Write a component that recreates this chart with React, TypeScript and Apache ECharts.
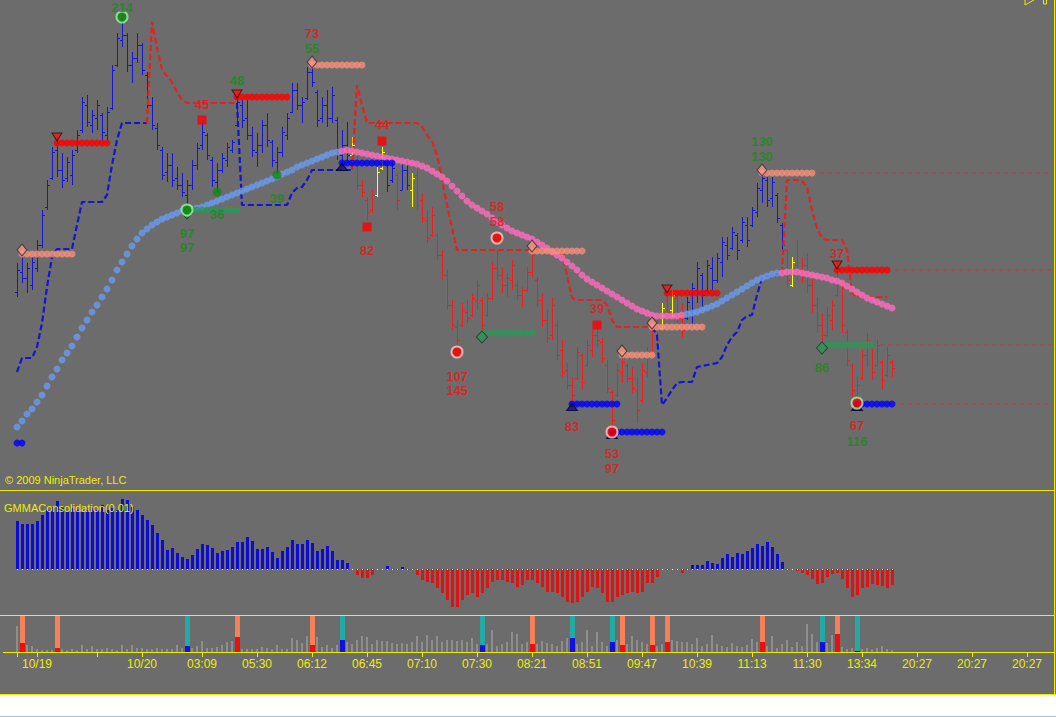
import React, { useEffect, useRef } from "react";
import * as echarts from "echarts";

// ---------- layout constants ----------
const N_SLOTS = 208;
const FONT = "'Liberation Sans', Arial, sans-serif";
const YELLOW = "#eeee00";
const BG = "#6c6c6c";

// ---------- axis ticks ----------
const TICKS: [number, string][] = [
  [0, ""], [4, "10/19"], [16, ""], [25, "10/20"], [37, "03:09"], [48, "05:30"], [59, "06:12"],
  [70, "06:45"], [81, "07:10"], [92, "07:30"], [103, "08:21"], [114, "08:51"], [125, "09:47"],
  [136, "10:39"], [147, "11:13"], [158, "11:30"], [169, "13:34"], [180, "20:27"], [191, "20:27"], [202, "20:27"],
];

// ---------- price bars [open, high, low, close] ----------
const BAR_OHLC: number[][] = [
  [198,227,193,220],[218,233,207,212],[212,227,197,222],[205,233,200,228],[222,250,218,245],
  [245,280,242,275],[283,310,280,305],[312,343,310,338],[340,353,313,320],[320,337,302,310],
  [312,333,308,328],[315,340,305,335],[340,360,337,355],[360,393,357,388],[385,395,363,368],
  [365,380,357,375],[372,390,360,385],[375,377,350,358],[355,383,350,378],[382,425,380,420],
  [425,457,423,452],[450,472,443,455],[455,457,418,425],[425,438,407,432],[432,457,427,445],
  [445,447,415,420],[415,418,380,385],[385,393,360,365],[362,367,340,345],[340,343,310,315],
  [318,337,308,325],[325,337,303,310],[312,323,300,305],[305,317,293,298],[295,310,285,305],
  [305,330,300,325],[325,347,320,342],[345,367,340,358],[355,357,330,335],[330,333,303,310],
  [308,327,298,320],[320,337,317,332],[330,347,323,343],[340,350,337,348],[365,393,363,388],
  [385,390,362,370],[372,390,350,355],[355,363,333,340],[338,357,323,345],[345,370,337,365],
  [365,377,343,350],[348,350,323,330],[328,343,315,338],[338,363,333,358],[355,377,350,372],
  [378,407,377,400],[400,407,380,385],[385,393,367,388],[392,423,390,418],[418,427,403,408],
  [398,400,363,370],[372,393,367,385],[385,400,363,372],[372,403,367,395],[370,373,330,338],
  [335,360,323,345],[345,368,327,335],[335,353,328,345],[330,337,300,305],[305,310,293,298],
  [290,293,270,278],[280,300,277,295],[295,323,293,318],[322,343,320,338],[325,327,298,305],
  [310,330,307,322],[315,317,280,290],[300,327,300,320],[320,330,300,305],[300,317,283,312],
  [315,320,280,285],[290,297,267,272],[270,280,247,252],[255,283,253,275],[255,257,230,235],
  [235,240,210,215],[215,220,180,185],[185,190,160,165],[163,170,145,150],[165,187,163,180],
  [178,190,167,172],[175,197,173,192],[190,210,180,205],[190,193,157,165],[175,197,173,192],
  [192,228,190,222],[222,240,210,215],[215,223,197,205],[205,217,193,212],[210,230,200,225],
  [205,210,190,195],[195,203,183,200],[200,223,197,218],[218,243,213,235],[210,213,183,190],
  [190,197,163,170],[170,180,147,152],[155,193,150,185],[165,170,130,135],[140,150,113,118],
  [120,127,100,105],[105,113,87,95],[112,143,110,138],[135,137,100,108],[125,150,123,145],
  [140,160,133,155],[155,167,143,150],[148,153,127,132],[125,130,97,102],[98,100,60,70],
  [95,127,93,120],[118,133,107,128],[125,127,107,112],[112,123,97,102],[100,113,67,80],
  [90,127,87,120],[118,143,113,138],[138,170,133,165],[165,177,140,150],[162,187,160,182],
  [190,203,173,178],[180,200,173,195],[192,195,167,172],[172,187,153,160],[172,193,170,188],
  [180,207,163,202],[200,228,187,222],[215,217,183,195],[200,230,197,225],[222,233,200,210],
  [210,237,207,232],[228,253,213,248],[245,253,230,235],[242,263,240,258],[255,257,230,240],
  [250,273,247,268],[265,273,243,250],[265,283,263,280],[278,307,273,302],[300,317,287,312],
  [310,313,283,290],[292,313,283,308],[295,297,267,272],[265,267,240,245],[240,240,203,210],
  [205,233,203,228],[225,250,210,218],[220,233,207,225],[225,237,197,205],[205,213,177,185],
  [185,193,157,165],[165,177,147,155],[155,183,153,175],[170,190,160,185],[195,227,193,220],
  [205,210,157,165],[158,160,123,130],[125,127,93,100],[95,113,87,105],[112,140,110,135],
  [135,157,123,150],[143,143,110,118],[125,150,123,145],[128,130,100,110],[115,143,113,135],
  [128,130,113,122],
];
// bar colour segments [from, to, trend]
const BAR_TREND_SEGMENTS: [number, number, string][] = [
  [0, 66, "b"], [67, 67, "y"], [68, 71, "r"], [72, 73, "y"], [74, 75, "b"], [76, 76, "r"],
  [77, 78, "b"], [79, 79, "y"], [80, 128, "r"], [129, 129, "y"], [130, 130, "r"], [131, 131, "y"],
  [132, 133, "r"], [134, 153, "b"], [154, 154, "r"], [155, 155, "y"], [156, 175, "r"],
];

// ---------- moving average (dotted) ----------
const MA_VALUES: number[] = [
  63,69,76,81,88,95,104,113,121,130,
  137,144,153,162,170,178,185,193,201,210,
  220,228,236,244,251,257,261,265,268,271,
  273,275,277,279,280,281,282,283,285,287,
  289,291,293,295,297,299,301,303,305,307,
  309,311,313,316,318,320,323,325,327,329,
  331,333,335,337,338,339,340,339,338,337,
  336,335,334,333,332,331,330,329,328,327,
  326,324,322,319,316,313,309,304,299,294,
  289,285,282,279,276,272,268,265,262,259,
  257,255,253,251,248,245,242,238,235,232,
  228,224,220,215,211,208,205,202,199,196,
  193,190,187,184,181,179,177,175,174,174,
  174,174,174,175,176,177,178,180,182,184,
  186,189,192,195,198,201,204,207,210,212,
  214,216,217,217,218,218,218,217,216,215,
  214,213,212,210,209,207,204,201,198,195,
  192,190,188,186,184,182,
];
const MA_TREND_SEGMENTS: [number, number, string][] = [
  [0, 64, "up"], [65, 133, "dn"], [134, 152, "up"], [153, 175, "dn"],
];

// ---------- trailing stops (dashed) [startIndex, values] ----------
const STOP_LONG_SEGMENTS: [number, number[]][] = [
  [0, [118,132,132,132,143,167,203,233,241,241,241,241,265,288,288,288,288,288,295,325,350,367,367,367,367,367,367]],
  [44, [387,285,285,285,285,285,285,285,285,285,285,297,302,303,310,320,320,320,320,320,320,320,320,320]],
  [127, [163,155,85,92,100,107,108,108,108,123,124,125,126,127,133,145,153,158,170,174,175,195,212,214,215,216,217]],
];
const STOP_SHORT_SEGMENTS: [number, number[]][] = [
  [26, [367,468,442,420,414,408,398,390,387,387,387,387,387,387,387,387,387,387,387]],
  [67, [320,405,385,367,367,367,367,367,367,367,367,367,367,367,363,355,349,335,310,285,262,
        240,240,240,240,240,240,240,240,240,240,240,240,240,240,240,240,240,240,240,240,240,
        237,215,192,190,190,190,190,190,190,185,170,163,163,163,163,163,163,163,163]],
  [153, [217,310,310,310,309,303,280,262,252,250,250,250,250,240,197,193,193,193,193,193,193,193]],
];

// ---------- signal levels [value, from, to, kind] ----------
const LEVELS: [number, number, number, string][] = [
  [236, 1, 11, "pink"], [425, 59, 69, "pink"], [239, 103, 113, "pink"], [135, 121, 127, "pink"],
  [163, 127, 137, "pink"], [317, 149, 159, "pink"],
  [347, 8, 18, "red"], [393, 44, 54, "red"], [197, 130, 140, "red"], [220, 164, 174, "red"],
  [47, 0, 1, "blue"], [327, 65, 75, "blue"], [86, 111, 120, "blue"], [58, 119, 129, "blue"], [86, 168, 175, "blue"],
  [280, 34, 44, "green"], [157, 93, 103, "green"], [145, 161, 171, "green"],
];
// level projections to the right edge [value, fromIndex]
const EXTENSIONS: [number, number][] = [[317, 159], [220, 174], [145, 171], [86, 175]];

// ---------- markers ----------
const PINK_MARKERS: number[][] = [[1, 240], [59, 428], [103, 244], [121, 139], [127, 167], [149, 320]];
const RED_MARKERS: number[][] = [[8, 353], [44, 396], [130, 201], [164, 225]];
const BLUE_MARKERS: number[][] = [[65, 323], [111, 83], [119, 55], [168, 83]];
const GREEN_MARKERS: number[][] = [[34, 277], [93, 153], [161, 142]];
const RING_CIRCLES: [number, number, string][] = [
  [21, 473, "g"], [34, 280, "g"], [88, 138, "r"], [96, 252, "r"], [119, 58, "r"], [168, 87, "rg"],
];
const SQUARES: number[][] = [[37, 370], [70, 263], [73, 349], [116, 165]];
const GREEN_DOTS: number[][] = [[40, 298], [52, 315]];

// ---------- number labels [index, value, text, colour] ----------
const LABELS: [number, number, string, string][] = [
  [21, 483, "214", "g"], [37, 386, "45", "r"], [44, 410, "48", "g"],
  [59, 457, "73", "r"], [59, 442, "55", "g"],
  [34, 257, "97", "g"], [34, 243, "97", "g"], [40, 276, "36", "g"], [52, 292, "39", "g"],
  [73, 366, "44", "r"], [70, 240, "82", "r"],
  [96, 284, "58", "r"], [96, 269, "58", "r"],
  [88, 114, "107", "r"], [88, 100, "145", "r"],
  [116, 182, "39", "r"], [111, 64, "83", "r"],
  [119, 37, "53", "r"], [119, 22, "97", "r"],
  [149, 349, "130", "g"], [149, 334, "130", "g"],
  [164, 237, "37", "r"], [161, 123, "86", "g"],
  [168, 65, "67", "r"], [168, 49, "116", "g"],
];

// ---------- GMMA consolidation histogram ----------
const GMMA: number[] = [
  48,45,45,45,48,54,59,62,68,62,
  57,61,59,57,59,61,59,64,59,61,
  59,70,69,62,59,54,49,44,36,29,
  19,21,16,12,10,14,20,25,24,21,
  16,18,19,22,27,27,32,28,20,20,
  22,17,11,18,22,29,25,25,29,26,
  18,20,23,18,9,9,6,0,-6,-9,
  -9,-6,0,0,3,-1,-1,2,-1,0,
  -6,-11,-13,-14,-19,-24,-31,-38,-38,-31,
  -26,-24,-28,-24,-19,-13,-11,-11,-13,-14,
  -18,-16,-11,-11,-14,-18,-23,-23,-24,-28,
  -33,-34,-33,-28,-23,-18,-19,-24,-33,-33,
  -28,-26,-24,-23,-24,-23,-14,-14,-8,0,
  -1,0,0,-4,-1,4,4,4,8,6,
  5,11,15,12,16,15,18,21,25,23,
  27,22,15,7,-1,0,-2,-4,-6,-10,
  -15,-14,-8,-5,-4,-10,-19,-28,-26,-19,
  -18,-15,-16,-17,-19,-16,
];

// ---------- volume ----------
const VOLUME: number[] = [
  26,9,7,6,3,2,2,2,4,3,
  2,3,2,7,3,6,3,3,4,3,
  2,7,3,7,4,4,3,3,4,3,
  3,3,7,4,6,4,6,11,4,4,
  5,7,10,11,15,3,3,3,3,5,
  4,3,7,3,3,14,12,9,16,7,
  15,5,7,4,7,12,10,8,12,16,
  15,8,12,11,11,9,8,9,8,10,
  16,10,17,12,16,10,12,12,11,12,
  10,14,8,7,8,22,6,8,10,20,
  18,8,10,8,8,11,9,8,6,11,
  14,14,8,10,22,6,20,10,6,10,
  12,7,8,16,12,10,8,7,6,8,
  10,12,11,10,10,8,14,6,8,17,
  8,6,5,9,6,5,7,13,10,10,
  6,16,4,8,12,5,10,6,28,18,
  10,10,9,17,18,5,3,4,1,3,
  4,3,4,6,3,2,
];
// signal bars in volume panel [index, kind] c = coral/sell, t = teal/buy
const SIGNALS: [number, string][] = [
  [1, "c"], [8, "c"], [34, "t"], [44, "c"], [59, "c"], [65, "t"], [93, "t"], [103, "c"], [111, "t"],
  [119, "t"], [121, "c"], [127, "c"], [130, "c"], [149, "c"], [161, "t"], [164, "c"], [168, "t"],
];

const PRICE_MIN = 0, PRICE_MAX = 490;
const GMMA_MIN = -46, GMMA_MAX = 79;
const VOL_MAX = 37;

// ---------- colours ----------
const BAR_COLORS: Record<string, string> = { b: "#1616d8", r: "#f01e1e", y: "#ffff00" };
const MA_COLORS: Record<string, string> = { up: "#6b9bf0", dn: "#ff6cbc" };
const LEVEL_COLORS: Record<string, string> = { pink: "#f88e7c", red: "#ff0000", blue: "#0000ff", green: "#2f9358" };
const TEXT_COLORS: Record<string, string> = { g: "#1a8a1a", r: "#e81818" };

function trendAt(segs: [number, number, string][], i: number): string {
  for (const s of segs) if (i >= s[0] && i <= s[1]) return s[2];
  return segs[segs.length - 1][2];
}
function segmentsToArray(segs: [number, number[]][], n: number): (number | null)[] {
  const arr: (number | null)[] = new Array(n).fill(null);
  for (const [start, vals] of segs) vals.forEach((v, k) => { arr[start + k] = v; });
  return arr;
}

export default function App() {
  const ref = useRef<HTMLDivElement>(null);

  useEffect(() => {
    document.body.style.margin = "0";
    if (!ref.current) return;
    const chart = echarts.init(ref.current, undefined, { renderer: "svg" });
    const n = BAR_OHLC.length;

    const tickMap = new Map<number, string>(TICKS);
    const categories = Array.from({ length: N_SLOTS }, (_, i) => tickMap.get(i) ?? "");
    const signalMap = new Map<number, string>(SIGNALS);

    const xAxes = [0, 1, 2].map((g) => ({
      type: "category",
      gridIndex: g,
      data: categories,
      boundaryGap: true,
      splitLine: { show: false },
      axisLine: g === 2 ? { show: true, lineStyle: { color: YELLOW, width: 1 } } : { show: false },
      axisTick: g === 2
        ? { show: true, alignWithLabel: true, length: 5, interval: (idx: number) => tickMap.has(idx), lineStyle: { color: YELLOW } }
        : { show: false },
      axisLabel: g === 2
        ? { show: true, interval: (idx: number) => tickMap.has(idx), color: YELLOW, fontSize: 12, fontFamily: FONT, margin: 6, hideOverlap: false }
        : { show: false },
    }));

    const yAxes = [
      { type: "value", gridIndex: 0, min: PRICE_MIN, max: PRICE_MAX, show: false },
      { type: "value", gridIndex: 1, min: GMMA_MIN, max: GMMA_MAX, show: false },
      { type: "value", gridIndex: 2, min: 0, max: VOL_MAX, show: false },
    ];

    const ohlcData = BAR_OHLC.map((b, i) => [i, b[0], b[1], b[2], b[3]]);

    const maData = MA_VALUES.map((v, i) => ({
      value: [i, v],
      itemStyle: { color: MA_COLORS[trendAt(MA_TREND_SEGMENTS, i)] },
    }));

    const levelData: any[] = [];
    for (const [v, a, b, kind] of LEVELS) {
      for (let i = a; i <= b; i++) levelData.push({ value: [i, v], itemStyle: { color: LEVEL_COLORS[kind] } });
    }

    const series: any[] = [];

    // price bars
    series.push({
      type: "custom",
      xAxisIndex: 0, yAxisIndex: 0, z: 2,
      data: ohlcData,
      encode: { x: 0, y: [1, 2, 3, 4] },
      renderItem: (params: any, api: any) => {
        const i = api.value(0);
        const o = api.coord([i, api.value(1)]);
        const h = api.coord([i, api.value(2)]);
        const l = api.coord([i, api.value(3)]);
        const c = api.coord([i, api.value(4)]);
        const x = Math.round(h[0]) + 0.5;
        const col = BAR_COLORS[trendAt(BAR_TREND_SEGMENTS, params.dataIndex)];
        const st = { stroke: col, lineWidth: 1 };
        const oy = Math.round(o[1]) + 0.5, cy = Math.round(c[1]) + 0.5;
        return {
          type: "group",
          children: [
            { type: "line", shape: { x1: x, y1: Math.round(h[1]), x2: x, y2: Math.round(l[1]) }, style: st },
            { type: "line", shape: { x1: x - 2.5, y1: oy, x2: x, y2: oy }, style: st },
            { type: "line", shape: { x1: x, y1: cy, x2: x + 2.5, y2: cy }, style: st },
          ],
        };
      },
    });

    // trailing stops
    series.push({
      type: "line", xAxisIndex: 0, yAxisIndex: 0, z: 3, symbol: "none", connectNulls: false,
      data: segmentsToArray(STOP_LONG_SEGMENTS, n),
      lineStyle: { color: "#1414d2", width: 2.2, type: [6, 3] },
    });
    series.push({
      type: "line", xAxisIndex: 0, yAxisIndex: 0, z: 3, symbol: "none", connectNulls: false,
      data: segmentsToArray(STOP_SHORT_SEGMENTS, n),
      lineStyle: { color: "#e42222", width: 2.2, type: [6, 3] },
    });

    // level projections
    for (const [v, from] of EXTENSIONS) {
      const arr: (number | null)[] = new Array(N_SLOTS).fill(null);
      for (let i = from; i < N_SLOTS; i++) arr[i] = v;
      series.push({
        type: "line", xAxisIndex: 0, yAxisIndex: 0, z: 3, symbol: "none",
        data: arr, lineStyle: { color: "#c23a3a", width: 1, type: [4, 4] },
      });
    }

    // moving average dots
    series.push({
      type: "scatter", xAxisIndex: 0, yAxisIndex: 0, z: 4, symbol: "circle", symbolSize: 7, data: maData,
    });

    // level dots
    series.push({
      type: "scatter", xAxisIndex: 0, yAxisIndex: 0, z: 5, symbol: "circle", symbolSize: 7, data: levelData,
    });

    // markers
    series.push({
      type: "scatter", xAxisIndex: 0, yAxisIndex: 0, z: 6, symbol: "diamond", symbolSize: [10, 12],
      data: PINK_MARKERS, itemStyle: { color: "#f59a88", borderColor: "#3a2a2a", borderWidth: 1 },
    });
    series.push({
      type: "scatter", xAxisIndex: 0, yAxisIndex: 0, z: 6, symbol: "triangle", symbolRotate: 180, symbolSize: [10, 8],
      data: RED_MARKERS, itemStyle: { color: "#ff1010", borderColor: "#301010", borderWidth: 1 },
    });
    series.push({
      type: "scatter", xAxisIndex: 0, yAxisIndex: 0, z: 6, symbol: "triangle", symbolSize: [11, 7],
      data: BLUE_MARKERS, itemStyle: { color: "#101070", borderColor: "#000040", borderWidth: 1 },
    });
    series.push({
      type: "scatter", xAxisIndex: 0, yAxisIndex: 0, z: 6, symbol: "diamond", symbolSize: [11, 12],
      data: GREEN_MARKERS, itemStyle: { color: "#2f9358", borderColor: "#203020", borderWidth: 1 },
    });
    series.push({
      type: "scatter", xAxisIndex: 0, yAxisIndex: 0, z: 7, symbol: "circle", symbolSize: 11,
      data: RING_CIRCLES.map(([i, v, k]) => ({
        value: [i, v],
        itemStyle: {
          color: k === "g" ? "#0e8a0e" : "#ff0000",
          borderColor: k === "r" ? "#ffc8c8" : "#9cf59c",
          borderWidth: 2,
        },
      })),
    });
    series.push({
      type: "scatter", xAxisIndex: 0, yAxisIndex: 0, z: 7, symbol: "rect", symbolSize: 9,
      data: SQUARES, itemStyle: { color: "#ff0000" },
    });
    series.push({
      type: "scatter", xAxisIndex: 0, yAxisIndex: 0, z: 7, symbol: "circle", symbolSize: 9,
      data: GREEN_DOTS, itemStyle: { color: "#138a13" },
    });

    // text labels
    series.push({
      type: "scatter", xAxisIndex: 0, yAxisIndex: 0, z: 8, symbolSize: 1,
      itemStyle: { color: "rgba(0,0,0,0)" },
      data: LABELS.map(([i, v, t, c]) => ({
        value: [i, v], name: t,
        label: { color: TEXT_COLORS[c], fontWeight: "bold", fontSize: 13, fontFamily: FONT },
      })),
      label: {
        show: true, position: "inside", formatter: "{b}",
        fontSize: 13, fontWeight: "bold", fontFamily: FONT,
      },
    });

    // GMMA histogram
    series.push({
      type: "custom", xAxisIndex: 1, yAxisIndex: 1, z: 2,
      data: GMMA.map((v, i) => [i, v]),
      encode: { x: 0, y: 1 },
      renderItem: (params: any, api: any) => {
        const i = api.value(0), v = api.value(1);
        const base = api.coord([i, 0]);
        const top = api.coord([i, v]);
        const x = Math.round(base[0]) - 1;
        const y0 = Math.round(base[1]);
        const y1 = Math.round(top[1]);
        const children: any[] = [];
        if (v !== 0) {
          children.push({
            type: "rect",
            shape: { x, y: Math.min(y0, y1), width: 3, height: Math.abs(y1 - y0) },
            style: { fill: v > 0 ? "#0c0cd4" : "#e01212" },
          });
        }
        children.push({ type: "rect", shape: { x: x + 1, y: y0, width: 1, height: 1 }, style: { fill: "#f0f0f0" } });
        return { type: "group", children };
      },
    });

    // volume + signals
    series.push({
      type: "custom", xAxisIndex: 2, yAxisIndex: 2, z: 2,
      data: VOLUME.map((v, i) => [i, v]),
      encode: { x: 0, y: 1 },
      renderItem: (params: any, api: any) => {
        const i = api.value(0), v = api.value(1);
        const base = api.coord([i, 0]);
        const top = api.coord([i, v]);
        const cx = Math.round(base[0]);
        const y0 = Math.round(base[1]);
        const y1 = Math.round(top[1]);
        const sig = signalMap.get(i);
        if (sig) {
          const full = api.coord([i, VOL_MAX]);
          const yf = Math.round(full[1]) + 1;
          return {
            type: "group",
            children: [
              { type: "rect", shape: { x: cx - 2, y: yf, width: 5, height: y0 - yf }, style: { fill: sig === "c" ? "#f88058" : "#22aaa6" } },
              { type: "rect", shape: { x: cx - 2, y: y1, width: 5, height: y0 - y1 }, style: { fill: sig === "c" ? "#ee0e0e" : "#1010e0" } },
            ],
          };
        }
        return { type: "rect", shape: { x: cx - 1, y: y1, width: 2, height: y0 - y1 }, style: { fill: "#8e8e8e" } };
      },
    });

    const option: any = {
      animation: false,
      backgroundColor: BG,
      textStyle: { fontFamily: FONT },
      grid: [
        { left: 14.5, width: 1040, top: 0, height: 490 },
        { left: 14.5, width: 1040, top: 490, height: 125 },
        { left: 14.5, width: 1040, top: 615, height: 37 },
      ],
      xAxis: xAxes,
      yAxis: yAxes,
      series,
      graphic: [
        { type: "line", z: 100, shape: { x1: 0, y1: 490.5, x2: 1054, y2: 490.5 }, style: { stroke: YELLOW, lineWidth: 1 } },
        { type: "line", z: 100, shape: { x1: 0, y1: 615.5, x2: 1054, y2: 615.5 }, style: { stroke: YELLOW, lineWidth: 1 } },
        { type: "line", z: 100, shape: { x1: 3, y1: 652.5, x2: 1054, y2: 652.5 }, style: { stroke: YELLOW, lineWidth: 1 } },
        { type: "line", z: 100, shape: { x1: 0, y1: 694.5, x2: 1056, y2: 694.5 }, style: { stroke: YELLOW, lineWidth: 1 } },
        { type: "line", z: 100, shape: { x1: 1054.5, y1: 0, x2: 1054.5, y2: 694 }, style: { stroke: YELLOW, lineWidth: 1 } },
        { type: "polyline", z: 100, shape: { points: [[1025, 0], [1025, 5], [1034, 0]] }, style: { stroke: YELLOW, fill: "none", lineWidth: 1 } },
        { type: "rect", z: 100, shape: { x: 1043.5, y: -1, width: 3, height: 5 }, style: { stroke: YELLOW, fill: "none", lineWidth: 1 } },
        {
          type: "text", z: 100, x: 5, y: 480,
          style: { text: "© 2009 NinjaTrader, LLC", fill: YELLOW, fontSize: 11, fontFamily: FONT, verticalAlign: "middle" },
        },
        {
          type: "text", z: 100, x: 4, y: 508,
          style: { text: "GMMAConsolidation(0.01)", fill: YELLOW, fontSize: 11, fontFamily: FONT, verticalAlign: "middle" },
        },
      ],
    };

    chart.setOption(option);
    return () => chart.dispose();
  }, []);

  return (
    <div style={{ width: 1056, height: 717, background: "#ffffff" }}>
      <div ref={ref} style={{ width: 1056, height: 695 }} />
      <div style={{ width: 1056, height: 21, background: "#ffffff", borderBottom: "1px solid #a9c3df" }} />
    </div>
  );
}
